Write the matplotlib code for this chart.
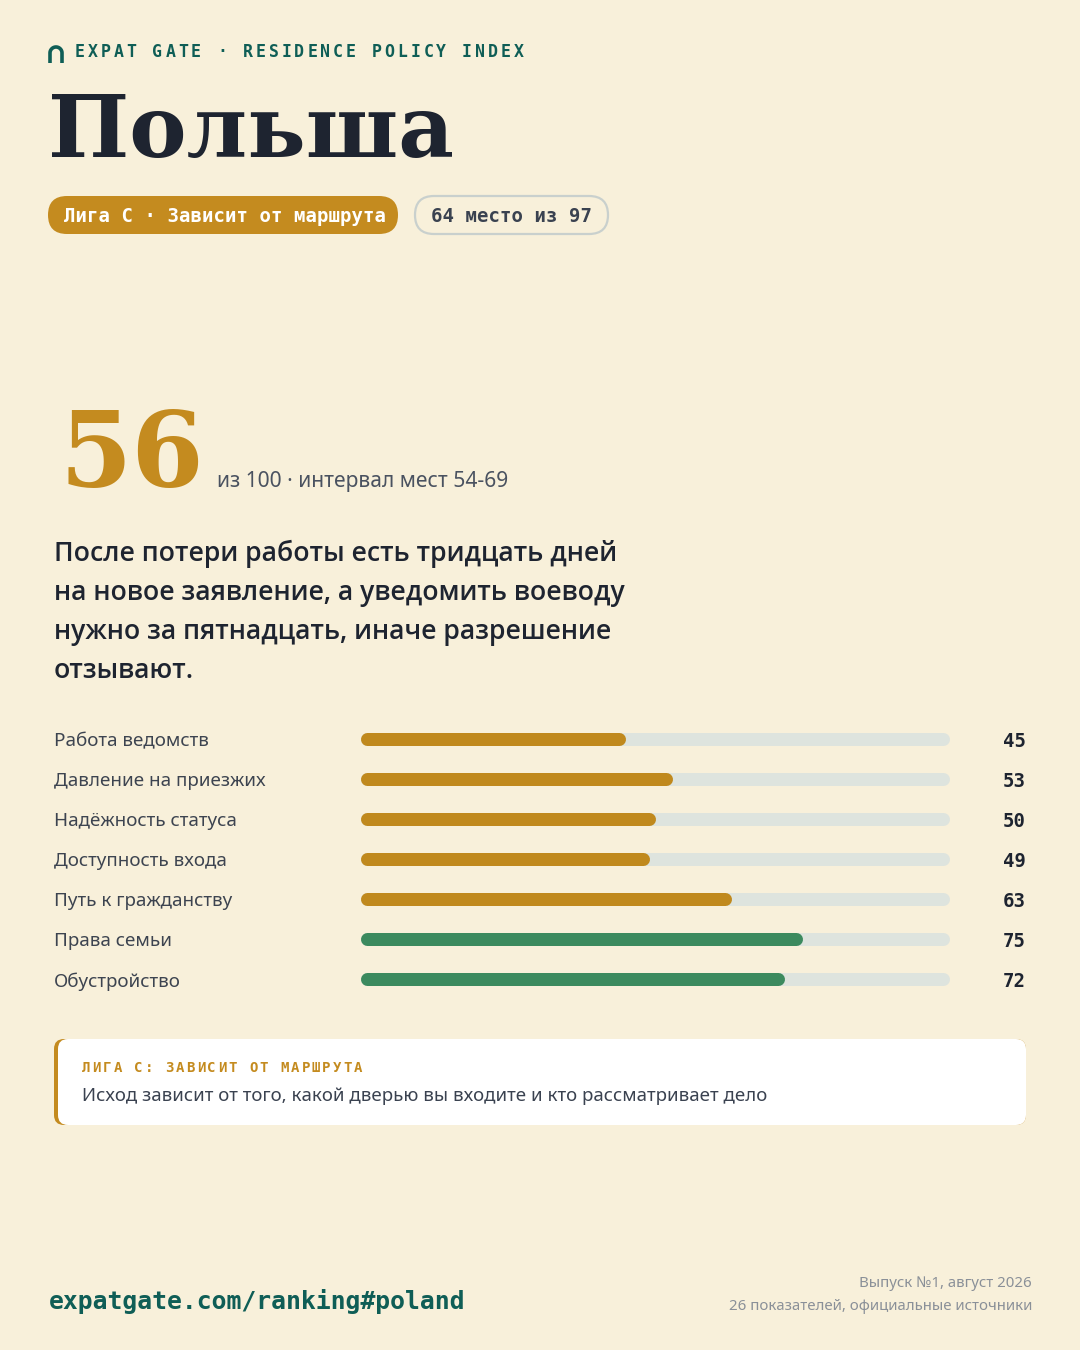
import matplotlib.pyplot as plt
import numpy as np
from matplotlib.patches import FancyBboxPatch
from matplotlib.transforms import blended_transform_factory

# данные
categories = ["Работа ведомств", "Давление на приезжих", "Надёжность статуса",
              "Доступность входа", "Путь к гражданству", "Права семьи", "Обустройство"]
scores = [45, 53, 50, 49, 63, 75, 72]
score_max = 100
total_score = 56
rank = 64
rank_total = 97
rank_range = "54-69"
country = "Польша"
league = "Лига C · Зависит от маршрута"
headline = ["После потери работы есть тридцать дней",
            "на новое заявление, а уведомить воеводу",
            "нужно за пятнадцать, иначе разрешение",
            "отзывают."]

BG = "#f8f0da"
GOLD = "#c48b1f"
BAR_GOLD = "#c0891d"
GREEN = "#3c8a5e"
TRACK = "#dee4de"
DARK = "#1e2430"
TEAL = "#0f5e56"
GRAY = "#4a5260"

SANS = ["Noto Sans", "DejaVu Sans"]
HEAD = ["Open Sans", "DejaVu Sans"]
MONO = "DejaVu Sans Mono"
SERIF = "DejaVu Serif"


def pt(px):
    return px * 0.72


fig = plt.figure(figsize=(10.8, 13.5), dpi=100, facecolor=BG)
ax = fig.add_axes([0, 0, 1, 1])
ax.set_xlim(0, 1080)
ax.set_ylim(1350, 0)
ax.axis("off")


def spaced(x, y, s, step, **kw):
    for i, ch in enumerate(s):
        ax.text(x + i * step, y, ch, **kw)


# шапка
th = np.linspace(np.pi, 0, 40)
arch_x = np.concatenate([[50], 56 + 6 * np.cos(th), [62]])
arch_y = np.concatenate([[63], 53 - 6 * np.sin(th), [63]])
ax.plot(arch_x, arch_y, color=TEAL, lw=2.6, solid_capstyle="butt")
spaced(75, 57, "EXPAT GATE · RESIDENCE POLICY INDEX", 12.9, family=MONO,
       fontweight="bold", fontsize=pt(16.5), color=TEAL, va="baseline")

ax.text(48, 157, country, family=SERIF, fontweight="bold", fontsize=pt(86),
        color=DARK, va="baseline")

# плашки
ax.add_patch(FancyBboxPatch((48, 196), 350, 38, boxstyle="round,pad=0,rounding_size=19",
                            fc=GOLD, ec="none"))
ax.text(64, 216, league, family=MONO, fontweight="bold", fontsize=pt(19),
        color="white", va="center")
ax.add_patch(FancyBboxPatch((415, 196), 193, 38, boxstyle="round,pad=0,rounding_size=19",
                            fc=BG, ec="#c9d0cd", lw=1.6))
ax.text(431, 216, f"{rank} место из {rank_total}", family=MONO, fontweight="bold",
        fontsize=pt(19), color="#3a4250", va="center")

# итоговый балл
ax.text(59, 487, str(total_score), family=SERIF, fontweight="bold", fontsize=pt(104),
        color=GOLD, va="baseline")
ax.text(217, 487, f"из {score_max} · интервал мест {rank_range}", family=SANS,
        fontsize=pt(21), color=GRAY, va="baseline")

for i, line in enumerate(headline):
    ax.text(54, 561 + i * 39, line, family=HEAD, fontweight="semibold",
            fontsize=pt(26.6), color=DARK, va="baseline")

# полосы
bax = fig.add_axes([360 / 1080, 1 - 999 / 1350, 590 / 1080, 280 / 1350])
bax.set_xlim(0, score_max)
bax.set_ylim(len(scores) - 0.5, -0.5)
bax.axis("off")
bax.patch.set_alpha(0)

bar_px = 13
cap = (bar_px / 2) / (590 / score_max)
ypos = np.arange(len(scores))
for y, v in zip(ypos, scores):
    col = GREEN if v >= 70 else BAR_GOLD
    bax.plot([cap, score_max - cap], [y, y], color=TRACK, lw=pt(bar_px),
             solid_capstyle="round")
    bax.plot([cap, v - cap], [y, y], color=col, lw=pt(bar_px), solid_capstyle="round")

tr = blended_transform_factory(fig.transFigure, bax.transData)
shift = 2.5 / 40  # небольшой сдвиг подписей вниз
for y, name, v in zip(ypos, categories, scores):
    bax.text(54 / 1080, y + shift, name, transform=tr, family=SANS, fontsize=pt(18.8),
             color="#3d4450", va="center", ha="left")
    bax.text(1026 / 1080, y + shift, str(v), transform=tr, family=MONO, fontweight="bold",
             fontsize=pt(19), color=DARK, va="center", ha="right")

# врезка
ax.add_patch(FancyBboxPatch((54, 1039), 972, 86, boxstyle="round,pad=0,rounding_size=10",
                            fc=GOLD, ec="none"))
ax.add_patch(FancyBboxPatch((58, 1039), 968, 86, boxstyle="round,pad=0,rounding_size=10",
                            fc="white", ec="none"))
spaced(82, 1072, "ЛИГА C: ЗАВИСИТ ОТ МАРШРУТА", 10.45, family=MONO, fontweight="bold",
       fontsize=pt(14), color=GOLD, va="baseline")
ax.text(82, 1101, "Исход зависит от того, какой дверью вы входите и кто рассматривает дело",
        family=SANS, fontsize=pt(18.7), color="#3a4250", va="baseline")

# подвал
ax.text(49, 1309, "expatgate.com/ranking#poland", family=MONO, fontweight="bold",
        fontsize=pt(24.8), color=TEAL, va="baseline")
ax.text(1032, 1287, "Выпуск №1, август 2026", family=SANS, fontsize=pt(15),
        color="#8a9098", va="baseline", ha="right")
ax.text(1032, 1310, "26 показателей, официальные источники", family=SANS,
        fontsize=pt(15), color="#8a9098", va="baseline", ha="right")

fig.savefig("out.png", dpi=100, facecolor=BG)
